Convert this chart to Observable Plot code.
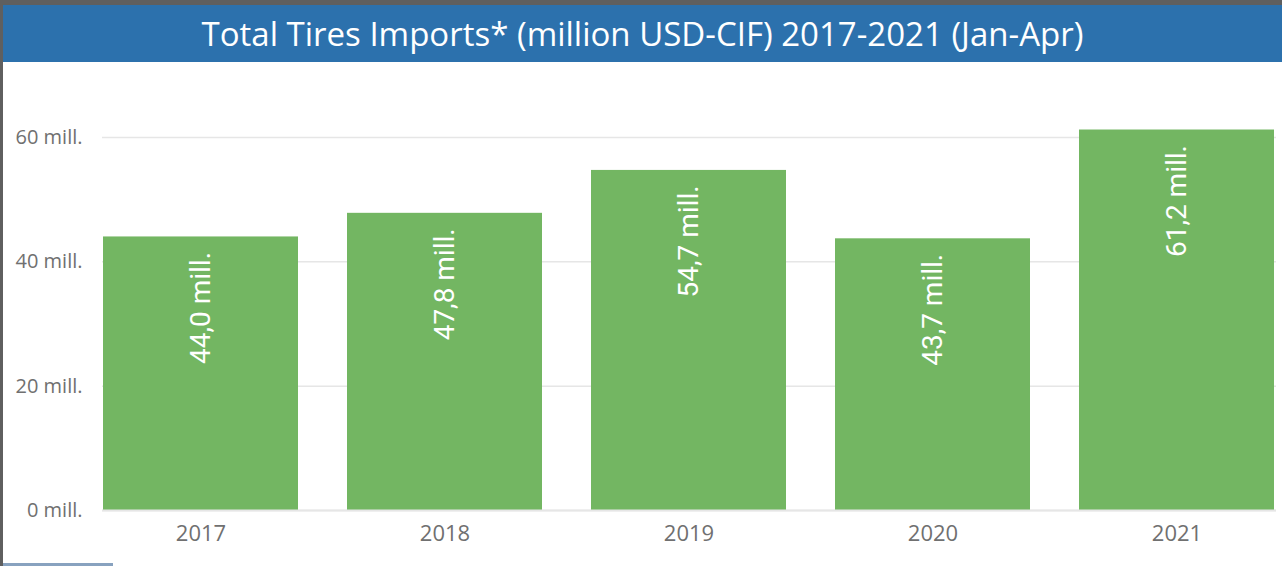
<!DOCTYPE html>
<html>
<head>
<meta charset="utf-8">
<script src="https://cdn.jsdelivr.net/npm/d3@7"></script>
<script src="https://cdn.jsdelivr.net/npm/@observablehq/plot@0.6"></script>
<style>
  html, body { margin: 0; padding: 0; background: #fff; }
  #wrap { position: relative; width: 1282px; height: 566px; overflow: hidden; background: #fff; }
  #topband { position: absolute; left: 0; top: 0; width: 1282px; height: 5px; background: #5f5f5f; }
  #leftband { position: absolute; left: 0; top: 0; width: 3px; height: 566px; background: #5f5f5f; }
  #title { position: absolute; left: 3px; top: 5px; width: 1279px; height: 57px; background: #2c71ad;
           color: #fff; font-family: "Open Sans", sans-serif; font-size: 33px; line-height: 57px; text-align: center; }
  #chart { position: absolute; left: 0; top: 62px; }
  #bottomline { position: absolute; left: 3px; top: 563px; width: 110px; height: 3px; background: #88a2bf; }
</style>
</head>
<body>
<div id="wrap">
  <div id="topband"></div>
  <div id="title">Total Tires Imports* (million USD-CIF) 2017-2021 (Jan-Apr)</div>
  <div id="chart"></div>
  <div id="leftband"></div>
  <div id="bottomline"></div>
</div>
<script>
const years = ["2017", "2018", "2019", "2020", "2021"];
const values = [44.0, 47.8, 54.7, 43.7, 61.2];
const yTicks = [0, 20, 40, 60];

const data = years.map((y, i) => ({year: y, value: values[i]}));
const fmt = v => v.toFixed(1).replace(".", ",") + " mill.";

const chart = Plot.plot({
  width: 1282,
  height: 504,
  marginLeft: 102,
  marginRight: 6,
  marginTop: 12.8,
  marginBottom: 56,
  style: { fontFamily: "Open Sans, sans-serif", background: "transparent", overflow: "visible" },
  x: { domain: years, paddingInner: 0.2, paddingOuter: 0, label: null },
  y: { domain: [0, 70], label: null },
  marks: [
    Plot.gridY(yTicks, { stroke: "#e6e6e6", strokeOpacity: 1, strokeWidth: 1.5 }),
    Plot.barY(data, { x: "year", y: "value", fill: "#73b662" }),
    Plot.ruleY([0], { stroke: "#e6e6e6", strokeWidth: 2 }),
    Plot.axisY({ ticks: yTicks, tickSize: 0, tickPadding: 20, tickFormat: d => d + " mill.",
                 fontSize: 20, fill: "#707070", label: null }),
    Plot.axisX({ tickSize: 0, tickPadding: 15, fontSize: 22, fill: "#707070", label: null }),
    Plot.text(data, { x: "year", y: "value", text: d => fmt(d.value), rotate: -90,
                      textAnchor: "end", dy: 15, fill: "#ffffff", fontSize: 28,
                      fontFamily: "Roboto, sans-serif" })
  ]
});
document.getElementById("chart").appendChild(chart);
</script>
</body>
</html>
